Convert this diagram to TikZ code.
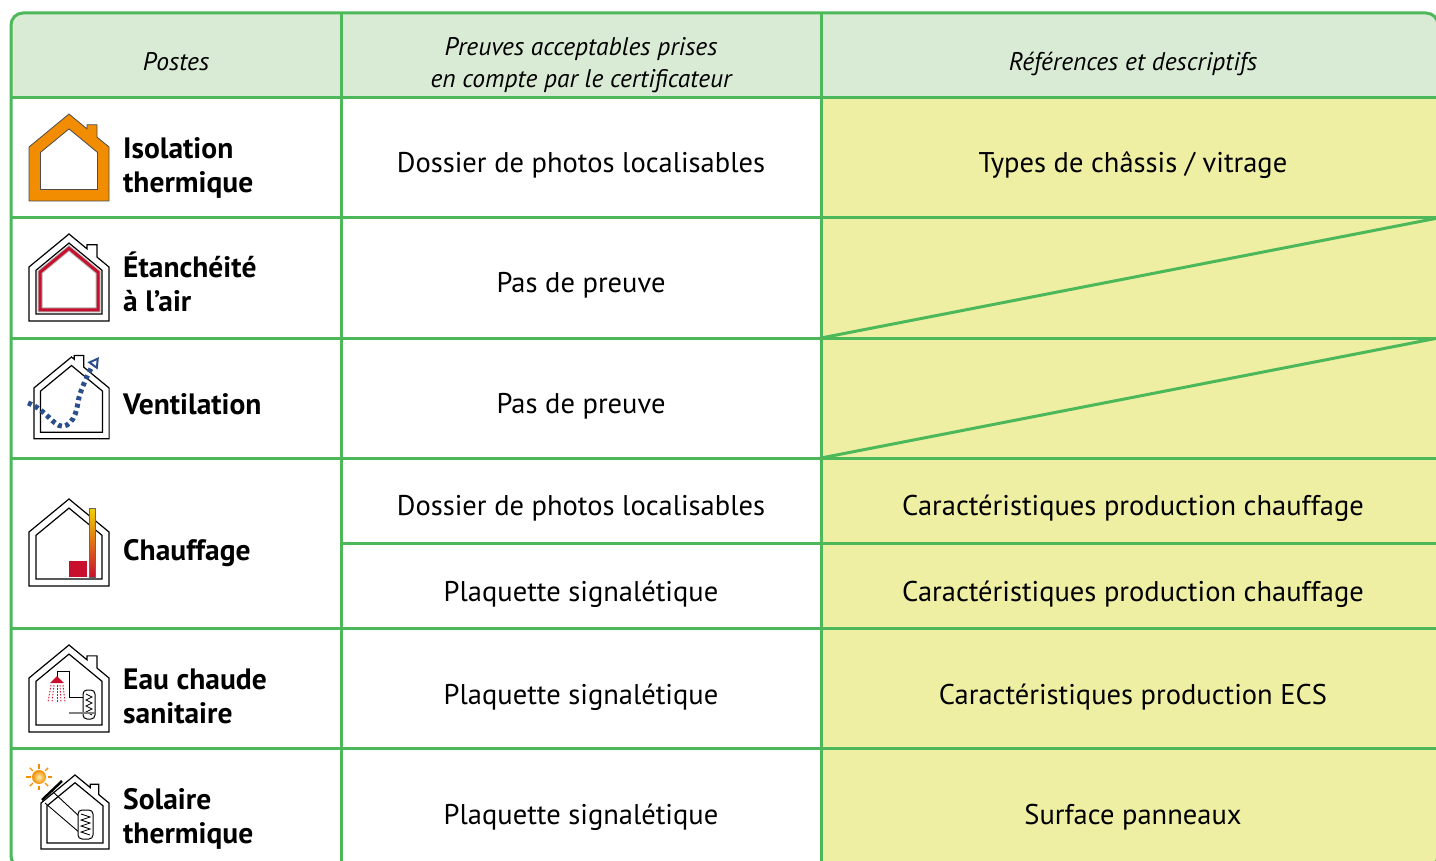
\documentclass[tikz,border=0pt]{standalone}
\usepackage{fontspec}
\setmainfont{PT Sans}
\usepackage{xcolor}
\usepackage{tikz}
\usetikzlibrary{arrows.meta}
\definecolor{grid}{HTML}{4CB85A}
\definecolor{headbg}{HTML}{DAEBD5}
\definecolor{refbg}{HTML}{EFEFA4}
\definecolor{orng}{HTML}{F28C00}
\definecolor{crimson}{HTML}{C8102E}
\definecolor{navy}{HTML}{2B4F8C}
\definecolor{flame}{HTML}{F2D000}
\tikzset{
  rule/.style={draw=grid, line width=3pt},
  head/.style={font=\fontsize{25.5}{32}\selectfont\itshape, align=center, anchor=base, inner sep=0pt},
  cell/.style={font=\fontsize{28.5}{34}\selectfont, anchor=base, inner sep=0pt},
  poste/.style={font=\fontsize{29.5}{34}\selectfont\bfseries, align=left, anchor=base west, inner sep=0pt},
  hline/.style={draw=black, line width=1.2pt, line join=miter},
  houseout/.style={insert path={(-40,87) -- (-40,33) -- (0,0) -- (#1,{#1*0.825}) -- (#1,{#1*0.825-4}) -- ({#1+10},{#1*0.825-4}) -- ({#1+10},{(#1+10)*0.825}) -- (40,33) -- (40,87) -- cycle}},
  housebare/.style={insert path={(-40,87) -- (-40,33) -- (0,0) -- (40,33) -- (40,87) -- cycle}},
  housein/.style={insert path={({-40+#1},{87-#1}) -- ({-40+#1},{1.296*#1+(40-#1)*0.825}) -- (0,{1.296*#1}) -- ({40-#1},{1.296*#1+(40-#1)*0.825}) -- ({40-#1},{87-#1}) -- cycle}},
}

\begin{document}
\begin{tikzpicture}[x=1pt, y=-1pt]
  \useasboundingbox (0,0) rectangle (1436,861);
  \clip (0,0) rectangle (1436,861);
  \def\colA{341}
  \def\colB{821}
  \def\right{1438}
  \def\bottom{868}

  % table background
  \begin{scope}
    \clip[rounded corners=12] (11,13) rectangle (\right,\bottom);
    \fill[white] (11,13) rectangle (\right,\bottom);
    \fill[headbg] (11,13) rectangle (\right,98);
    \fill[refbg] (\colB,98) rectangle (\right,\bottom);
  \end{scope}

  % grid
  \foreach \y in {98,218,338,458,628,748}
    \draw[rule] (11,\y) -- (\right,\y);
  \draw[rule] (\colA,543) -- (\right,543);
  \draw[rule] (\colA,13) -- (\colA,\bottom);
  \draw[rule] (\colB,13) -- (\colB,\bottom);
  \draw[rule] (\colB,338) -- (\right,218);
  \draw[rule] (\colB,458) -- (\right,338);
  \draw[rule, rounded corners=12] (11,13) rectangle (\right,\bottom);

  % header
  \node[head] (hpostes) at (176,71) {Postes};
  \node[head] (hpreuves) at (581,88) {Preuves acceptables prises\\en compte par le certificateur};
  \node[head] (hrefs) at (1133,71) {Références et descriptifs};

  % postes (base = last line)
  \node[poste] (isol) at (123,193) {Isolation\\thermique};
  \node[poste] (etan) at (123,312) {Étanchéité\\à l’air};
  \node[poste] (vent) at (123,414) {Ventilation};
  \node[poste] (chauf) at (123,560) {Chauffage};
  \node[poste] (ecs) at (123,723) {Eau chaude\\sanitaire};
  \node[poste] (sol) at (123,843) {Solaire\\thermique};

  % preuves and references
  \node[cell] (p1) at (581,173) {Dossier de photos localisables};
  \node[cell] (r1) at (1133,173) {Types de châssis / vitrage};
  \node[cell] (p2) at (581,293) {Pas de preuve};
  \node[cell] (p3) at (581,413) {Pas de preuve};
  \node[cell] (p4a) at (581,515) {Dossier de photos localisables};
  \node[cell] (r4a) at (1133,515) {Caractéristiques production chauffage};
  \node[cell] (p4b) at (581,601) {Plaquette signalétique};
  \node[cell] (r4b) at (1133,601) {Caractéristiques production chauffage};
  \node[cell] (p5) at (581,704) {Plaquette signalétique};
  \node[cell] (r5) at (1133,704) {Caractéristiques production ECS};
  \node[cell] (p6) at (581,824) {Plaquette signalétique};
  \node[cell] (r6) at (1133,824) {Surface panneaux};

  % isolation icon
  \begin{scope}[shift={(69,114)}]
    \path[fill=orng, draw=black!70, line width=0.8pt, even odd rule] [houseout=18] [housein=11.5];
  \end{scope}

  % etancheite icon
  \begin{scope}[shift={(69,234)}]
    \path[hline, fill=white] [houseout=18];
    \path[hline] [housein=7];
    \path[draw=black!30, line width=5pt] [housein=11];
    \path[draw=crimson, line width=3pt] [housein=11];
  \end{scope}

  % ventilation icon
  \begin{scope}[shift={(71.5,357)}, scale=0.94]
    \path[hline] [houseout=3];
    \path[hline] [housein=7];
  \end{scope}
  \draw[navy, line width=5pt, dash pattern=on 4pt off 3.5pt,
    -{Triangle[open, length=11pt, width=12pt, line width=2pt]}]
    (28,403) .. controls (48,410) and (56,432) .. (67,425)
    .. controls (78,418) and (77,402) .. (80,394)
    .. controls (84,382) and (91,368) .. (99,357);

  % chauffage icon
  \begin{scope}[shift={(69,499)}]
    \path[hline] [housebare];
    \path[hline] [housein=7];
  \end{scope}
  \shade[top color=flame, bottom color=crimson, draw=black!60, line width=0.6pt] (89,508) rectangle (95,577);
  \fill[crimson] (69,561) rectangle (87,577);

  % eau chaude icon
  \begin{scope}[shift={(69,645)}]
    \path[hline] [houseout=18];
    \path[hline] [housein=7];
  \end{scope}
  \draw[line width=1pt] (57,677) -- (57,671) -- (69,671) -- (69,697) -- (83,697);
  \draw[line width=1pt, fill=white, rounded corners=4] (83,690) rectangle (95,719);
  \draw[line width=0.8pt] (86,694) -- (92,697) -- (86,700) -- (92,703) -- (86,706) -- (92,709) -- (86,712) -- (92,715);
  \draw[black!50, line width=1.2pt] (69,713) -- (95,713);
  \fill[crimson] (50,683) -- (57,676) -- (64,683) -- cycle;
  \foreach \xa/\xb in {51/48, 54/52, 57/57, 60/61, 63/65}
    \draw[crimson, line width=0.9pt, dash pattern=on 1.5pt off 1.5pt] (\xa,685) -- (\xb,702);

  % solaire icon
  \begin{scope}[shift={(75,775)}, scale=0.85]
    \path[hline] [houseout=18];
    \path[hline] [housein=7];
  \end{scope}
  \draw[line width=0.9pt] (52,791) -- (80,817);
  \draw[line width=0.9pt] (45,803) -- (80,833);
  \draw[line width=2.5pt] (42,800) -- (62,781);
  \draw[line width=1pt, fill=white, rounded corners=4] (78,810) rectangle (93,839);
  \draw[line width=0.8pt] (81,814) -- (90,817) -- (81,820) -- (90,823) -- (81,826) -- (90,829) -- (81,832) -- (90,835);
  \foreach \a in {0,45,...,315}
    \draw[orng, line width=1.2pt] (39,777) ++(\a:8.5) -- ++(\a:4.5);
  \shade[inner color=flame!30, outer color=orng] (39,777) circle (7);
\end{tikzpicture}
\end{document}
